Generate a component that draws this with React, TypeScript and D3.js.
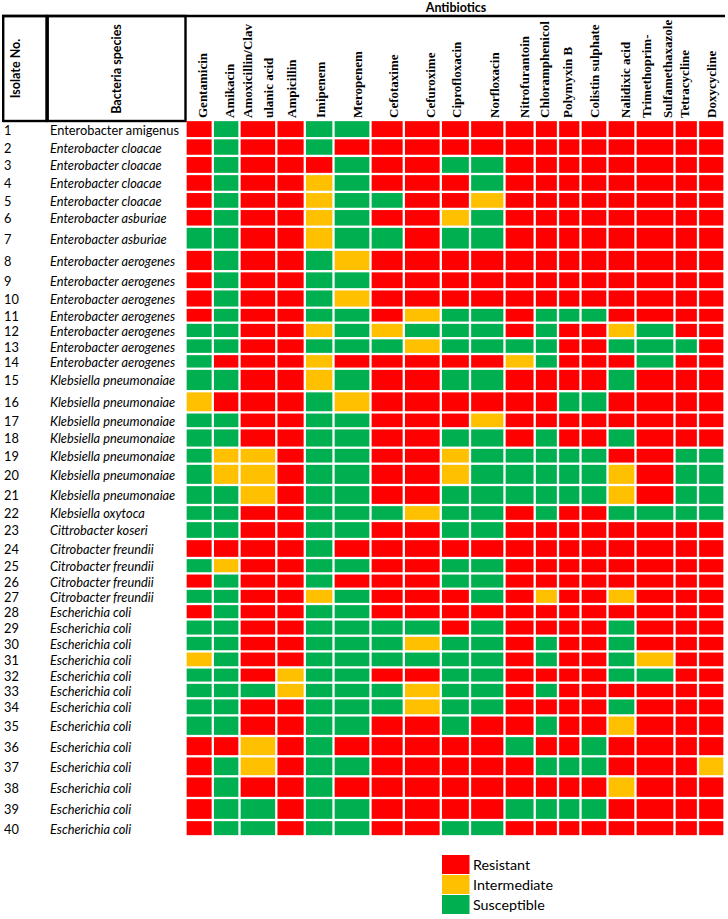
import React from "react";
import * as d3 from "d3";

// ---------- DATA ----------
const antibiotics = [
  "Gentamicin", "Amikacin", "Amoxicillin/Clavulanic acid", "Ampicillin", "Imipenem",
  "Meropenem", "Cefotaxime", "Cefuroxime", "Ciprofloxacin", "Norfloxacin",
  "Nitrofurantoin", "Chloramphenicol", "Polymyxin B", "Colistin sulphate",
  "Nalidixic acid", "Trimethoprim-Sulfamethaxazole", "Tetracycline", "Doxycycline",
];
const antibioticLabelLines = [
  ["Gentamicin"], ["Amikacin"], ["Amoxicillin/Clav", "ulanic acid"], ["Ampicillin"],
  ["Imipenem"], ["Meropenem"], ["Cefotaxime"], ["Cefuroxime"], ["Ciprofloxacin"],
  ["Norfloxacin"], ["Nitrofurantoin"], ["Chloramphenicol"], ["Polymyxin B"],
  ["Colistin sulphate"], ["Nalidixic acid"], ["Trimethoprim-", "Sulfamethaxazole"],
  ["Tetracycline"], ["Doxycycline"],
];
const isolateNos = [
  1, 2, 3, 4, 5, 6, 7, 8, 9, 10, 11, 12, 13, 14, 15, 16, 17, 18, 19, 20,
  21, 22, 23, 24, 25, 26, 27, 28, 29, 30, 31, 32, 33, 34, 35, 36, 37, 38, 39, 40,
];
const species = [
  "Enterobacter amigenus", "Enterobacter cloacae", "Enterobacter cloacae", "Enterobacter cloacae",
  "Enterobacter cloacae", "Enterobacter asburiae", "Enterobacter asburiae", "Enterobacter aerogenes",
  "Enterobacter aerogenes", "Enterobacter aerogenes", "Enterobacter aerogenes", "Enterobacter aerogenes",
  "Enterobacter aerogenes", "Enterobacter aerogenes", "Klebsiella pneumonaiae", "Klebsiella pneumonaiae",
  "Klebsiella pneumonaiae", "Klebsiella pneumonaiae", "Klebsiella pneumonaiae", "Klebsiella pneumonaiae",
  "Klebsiella pneumonaiae", "Klebsiella oxytoca", "Cittrobacter koseri", "Citrobacter freundii",
  "Citrobacter freundii", "Citrobacter freundii", "Citrobacter freundii", "Escherichia coli",
  "Escherichia coli", "Escherichia coli", "Escherichia coli", "Escherichia coli",
  "Escherichia coli", "Escherichia coli", "Escherichia coli", "Escherichia coli",
  "Escherichia coli", "Escherichia coli", "Escherichia coli", "Escherichia coli",
];
const italicSpecies = [
  false, true, true, true, true, true, true, true, true, true, true, true, true, true, true, true,
  true, true, true, true, true, true, true, true, true, true, true, true, true, true, true, true,
  true, true, true, true, true, true, true, true,
];
// R = Resistant, I = Intermediate, S = Susceptible (one letter per antibiotic)
const results = [
  "RSRRSSRRRRRRRRRRRR", "RSRRSRRRRRRRRRRRRR", "RSRRRSRRSSRRRRRRRR", "RSRRISRRRSRRRRRRRR",
  "RSRRISSRRIRRRRRRRR", "RSRRISRRISRRRRRRRR", "SSRRISSRSSRRRRRRRR", "RSRRSIRRRRRRRRRRRR",
  "RSRRSSRRRRRRRRRRRR", "RSRRSIRRRRRRRRRRRR", "RSRRSSRISSRSSSRRRR", "SSRRISISSSRSRRISRR",
  "SSRRSSSISSSSRRSSSR", "SRRRIRRRRRISRRRSRR", "SSRRISRRSSRRRRSRRR", "IRRRSIRRRRRRSSRRRR",
  "SSRRSSRRRIRRRRRRRR", "SSRRSSRRSSRSRRSRRR", "SIIRSSRRISSSSSRRSS", "SIIRSSRRISSSSSIRSS",
  "SSIRSSRRSSSSSSIRSS", "SSRRSSSISSRSRRSSSS", "SSRRSSRRSSRRRRRRRR", "RRRRSRRRRRRRRRRRRR",
  "SIRRSSRRSSRRRRRRRR", "RSRRSRRRSSRRRRRRRR", "SSRRISRRRSRIRRIRRR", "RSRRSSRRRRRRRRRRRR",
  "SSRRSSSSRSRRRRSRRR", "SSRRSSSISSRSRRSRRR", "ISRRSSSSSSRSRRSIRR", "SSRISSRRSSRRRRSSRR",
  "SSSISSSISSRSRRRRRR", "SSRRSSSISSRRRRSRRR", "SSRRSSRRSRRSRRIRRR", "RRIRSRRRRRSRRSRRRR",
  "RSIRSSRRRRRSSSRRRI", "RSRRSRRRRRRRRRIRRR", "RSSRSSRRRRSSSSRRRR", "RSSRSSRRSSRRRRRRRR",
];
const legendKeys = ["R", "I", "S"];
const legendLabels = ["Resistant", "Intermediate", "Susceptible"];

// ---------- LAYOUT (spreadsheet column widths / row heights) ----------
const W = 728;
const H = 919;
const gridLeft = 185.5;
const gridTop = 120;
const colWidths = [27.3, 26.7, 36.8, 28.5, 28.7, 37, 33.3, 37, 29.2, 34.5, 30.2, 23.3, 22.5, 27, 28, 39, 23.5, 26.5];
const rowHeights = [
  18.2, 17.7, 18.1, 17.9, 17, 17.8, 23, 21.5, 18.1, 18.4, 15, 15.5, 15.8, 14.7, 22.5, 21.2, 15.9, 19.4, 16, 21.3,
  20, 16, 18, 19, 15.4, 15.3, 15.3, 15.4, 16.3, 15.7, 16, 15.3, 15.6, 17.1, 20.6, 20.3, 20, 21.7, 22, 16.3,
];

const SANS = "Lato, 'Open Sans', sans-serif";
const SERIF = "'Liberation Serif', 'Times New Roman', serif";

export default function App() {
  const xStarts = [gridLeft, ...Array.from(d3.cumsum(colWidths), (v) => gridLeft + v)];
  const yStarts = [gridTop, ...Array.from(d3.cumsum(rowHeights), (v) => gridTop + v)];
  const x = d3.scaleOrdinal<string, number>().domain(antibiotics).range(xStarts.slice(0, -1));
  const xw = d3.scaleOrdinal<string, number>().domain(antibiotics).range(colWidths);
  const rowKeys = isolateNos.map(String);
  const y = d3.scaleOrdinal<string, number>().domain(rowKeys).range(yStarts.slice(0, -1));
  const yh = d3.scaleOrdinal<string, number>().domain(rowKeys).range(rowHeights);
  const color = d3.scaleOrdinal<string, string>().domain(["R", "I", "S"]).range(["#FF0000", "#FFC000", "#00B050"]);
  const gap = 1.15;

  return (
    <svg width={W} height={H} style={{ position: "absolute", left: 0, top: 0, background: "#fff" }}>
      <rect x={0} y={0} width={W} height={H} fill="#fff" />
      {/* title */}
      <text x={456} y={12} textAnchor="middle" fontFamily={SANS} fontWeight="bold" fontSize={12.5}>
        Antibiotics
      </text>
      {/* column headers */}
      {antibiotics.map((a, i) => {
        const lines = antibioticLabelLines[i];
        const right = x(a) + xw(a);
        return lines.map((ln, j) => {
          let bx: number;
          if (lines.length === 1) {
            bx = /[gjpqy]/.test(ln) ? right - 8.7 : right - 6;
          } else {
            bx = right - 3 - (lines.length - 1 - j) * 21;
          }
          return (
            <text
              key={a + j}
              transform={`translate(${bx},118) rotate(-90)`}
              fontFamily={SERIF}
              fontWeight="bold"
              fontSize={13}
            >
              {ln}
            </text>
          );
        });
      })}
      {/* white mask above header line to clip long labels */}
      <rect x={0} y={0} width={W} height={15} fill="#fff" />
      <text x={456} y={12} textAnchor="middle" fontFamily={SANS} fontWeight="bold" fontSize={12.5}>
        Antibiotics
      </text>
      <line x1={2} x2={725} y1={16} y2={16} stroke="#000" strokeWidth={2.6} />
      {/* left header boxes */}
      <rect x={3.2} y={16} width={43.3} height={105} fill="none" stroke="#000" strokeWidth={2.4} />
      <rect x={47.7} y={16} width={137.8} height={105} fill="none" stroke="#000" strokeWidth={2.4} />
      <text transform="translate(19.5,68.5) rotate(-90)" textAnchor="middle" fontFamily={SANS} fontWeight="bold" fontSize={12.5}>
        Isolate No.
      </text>
      <text transform="translate(120.5,69) rotate(-90)" textAnchor="middle" fontFamily={SANS} fontWeight="bold" fontSize={12.5}>
        Bacteria species
      </text>
      {/* rows */}
      {rowKeys.map((rk, r) => {
        const cy = y(rk) + yh(rk) / 2 + 1;
        return (
          <g key={rk}>
            <text x={4} y={cy} dy="0.35em" fontFamily={SANS} fontSize={12.8}>
              {isolateNos[r]}
            </text>
            <text x={50} y={cy} dy="0.35em" fontFamily={SANS} fontSize={12.8} fontStyle={italicSpecies[r] ? "italic" : "normal"}>
              {species[r]}
            </text>
            {antibiotics.map((a, c) => (
              <rect
                key={a}
                x={x(a) + gap}
                y={y(rk) + gap}
                width={xw(a) - 2 * gap}
                height={yh(rk) - 2 * gap}
                fill={color(results[r][c])}
              />
            ))}
          </g>
        );
      })}
      {/* legend */}
      {legendKeys.map((k, i) => (
        <g key={k}>
          <rect x={442} y={855 + i * 20} width={27.5} height={19} fill={color(k)} />
          <text x={473} y={855 + i * 20 + 9.5} dy="0.36em" fontFamily={SANS} fontSize={14.3}>
            {legendLabels[i]}
          </text>
        </g>
      ))}
    </svg>
  );
}
